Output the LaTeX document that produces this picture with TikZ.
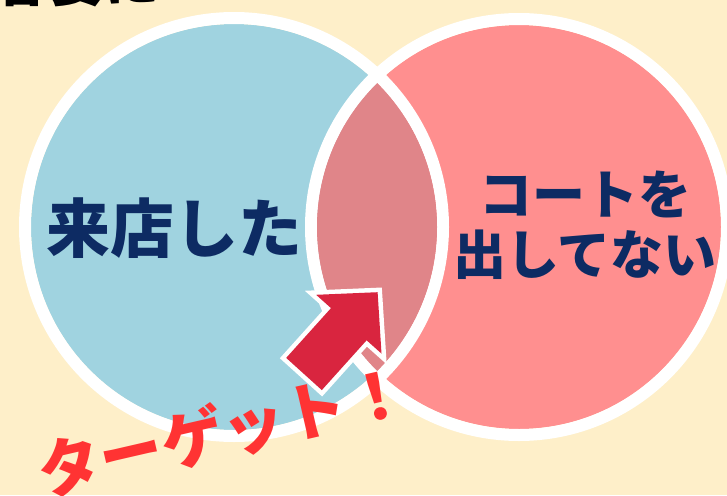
\documentclass[tikz,border=0pt]{standalone}
\usepackage{fontspec}
\newfontfamily\jp{Noto Sans CJK JP}
\definecolor{bgc}{HTML}{FEEFC9}
\definecolor{bluec}{HTML}{A0D3E0}
\definecolor{pinkc}{HTML}{FF8F8F}
\definecolor{lensc}{HTML}{E08589}
\definecolor{navyc}{HTML}{0D2B63}
\definecolor{arrowc}{HTML}{D9253F}
\definecolor{targetc}{HTML}{FF3333}
\tikzset{
  circlab/.style={text=navyc, font=\jp\bfseries\fontsize{53}{60}\selectfont, align=center, inner sep=0pt},
  ring/.style={draw=white, line width=12pt},
}
\begin{document}
\begin{tikzpicture}[x=1pt,y=-1pt]
\useasboundingbox (0,0) rectangle (727,495);
\fill[bgc] (0,0) rectangle (727,495);
\coordinate (L) at (234,227);
\coordinate (R) at (519,227);
% title (cut off at top)
\node[anchor=base west, inner sep=0pt, font=\jp\bfseries\fontsize{55}{55}\selectfont] (title) at (-6,2) {客要に};
% circles
\fill[bluec] (L) circle[radius=203pt];
\fill[pinkc] (R) circle[radius=202pt];
\draw[ring] (L) circle[radius=209pt];
\draw[ring] (R) circle[radius=208pt];
\begin{scope}
  \clip (L) circle[radius=203pt];
  \fill[lensc] (R) circle[radius=202pt];
\end{scope}
% labels
\node[circlab, font=\jp\bfseries\fontsize{64}{64}\selectfont] (visited) at (174,228) {来店した};
\node[circlab] (coat) at (585,225) {コートを\\出してない};
% arrow
\draw[white, line width=9pt, line join=miter, fill=white]
  (286.2,357.9) -- (331,308.1) -- (316.1,294.8) -- (377.6,292.2) -- (381.5,353.6) -- (366.6,340.3) -- (321.8,390.1) -- cycle;
\fill[arrowc]
  (286.2,357.9) -- (331,308.1) -- (316.1,294.8) -- (377.6,292.2) -- (381.5,353.6) -- (366.6,340.3) -- (321.8,390.1) -- cycle;
% target label
\node[text=targetc, font=\jp\bfseries\fontsize{63}{63}\selectfont, rotate=13, inner sep=0pt] (target) at (223,431) {ターゲット！};
\end{tikzpicture}
\end{document}
